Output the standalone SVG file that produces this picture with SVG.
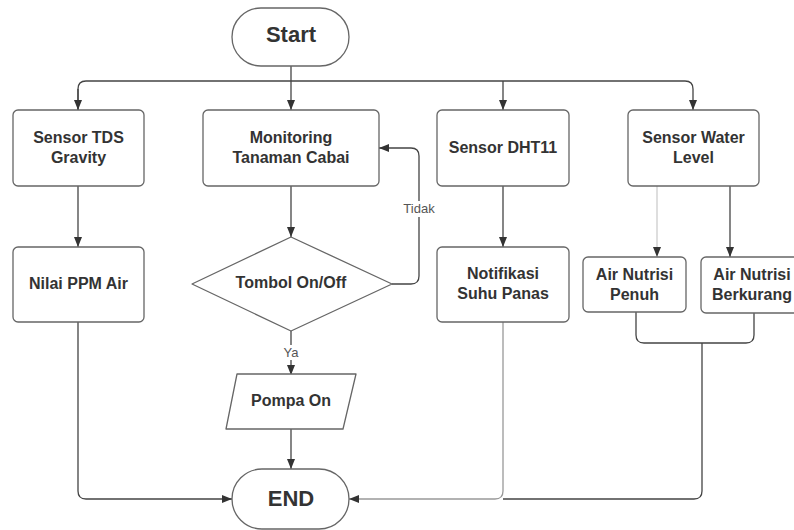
<svg xmlns="http://www.w3.org/2000/svg" width="794" height="530" viewBox="0 0 794 530">
<style>
.box{fill:#fff;stroke:#666;stroke-width:1.3}
.t{font-family:"Liberation Sans",Arial,sans-serif;font-weight:bold;font-size:16px;fill:#333;text-anchor:middle}
.big{font-size:22px}
.lbl{font-family:"Liberation Sans",Arial,sans-serif;font-size:13px;fill:#555;text-anchor:middle}
.c{fill:none;stroke:#444;stroke-width:1.3}
.faint{stroke:#ccc}
.grey{stroke:#999}
</style>
<defs>
<marker id="ah" markerUnits="userSpaceOnUse" markerWidth="10" markerHeight="10" viewBox="0 0 10 10" refX="10" refY="5" orient="auto">
<path d="M0,1 L10,5 L0,9 Z" fill="#333"/>
</marker>
</defs>
<rect width="794" height="530" fill="#fff"/>
<g id="connectors">
<path class="c" d="M291 66 V110" marker-end="url(#ah)"/>
<path class="c" d="M78 110 V89 Q78 81 86 81 H685 Q693 81 693 89 V110" marker-start="url(#ah)" marker-end="url(#ah)" style="marker-start:none"/>
<path class="c" d="M78 89 V110" marker-end="url(#ah)"/>
<path class="c" d="M503 81 V110" marker-end="url(#ah)"/>
<path class="c" d="M78 186 V247" marker-end="url(#ah)"/>
<path class="c" d="M291 186 V237" marker-end="url(#ah)"/>
<path class="c" d="M392 284 H411 Q419 284 419 276 V156 Q419 148 411 148 H379" marker-end="url(#ah)"/>
<path class="c" d="M291 331 V375" marker-end="url(#ah)"/>
<path class="c" d="M291 429 V469" marker-end="url(#ah)"/>
<path class="c" d="M503 186 V247" marker-end="url(#ah)"/>
<path class="c faint" d="M657 186 V257" marker-end="url(#ah)"/>
<path class="c" d="M730 186 V257" marker-end="url(#ah)"/>
<path class="c" d="M636 312 V335 Q636 343 644 343 H746 Q754 343 754 335 V313"/>
<path class="c" d="M78 322 V491 Q78 499 86 499 H232" marker-end="url(#ah)"/>
<path class="c grey" d="M503 322 V491 Q503 499 495 499 H349" marker-end="url(#ah)"/>
<path class="c" d="M702 343 V491 Q702 499 694 499 H503"/>
<rect x="401" y="201" width="36" height="16" fill="#fff"/>
<text class="lbl" x="419" y="213">Tidak</text>
<rect x="281" y="345" width="20" height="15" fill="#fff"/>
<text class="lbl" x="291" y="357">Ya</text>
</g>
<g id="start">
<rect class="box" x="232" y="8" width="117" height="58" rx="29"/>
<text class="t big" x="291" y="42">Start</text>
</g>
<g id="sensor-tds">
<rect class="box" x="13" y="110" width="131" height="76" rx="5"/>
<text class="t" x="78.5" y="143">Sensor TDS</text>
<text class="t" x="78.5" y="163">Gravity</text>
</g>
<g id="monitoring">
<rect class="box" x="203" y="110" width="176" height="76" rx="5"/>
<text class="t" x="291" y="143">Monitoring</text>
<text class="t" x="291" y="163">Tanaman Cabai</text>
</g>
<g id="sensor-dht11">
<rect class="box" x="437" y="110" width="132" height="76" rx="5"/>
<text class="t" x="503" y="153">Sensor DHT11</text>
</g>
<g id="sensor-water">
<rect class="box" x="628" y="110" width="131" height="76" rx="5"/>
<text class="t" x="693.5" y="143">Sensor Water</text>
<text class="t" x="693.5" y="163">Level</text>
</g>
<g id="nilai-ppm">
<rect class="box" x="13" y="247" width="131" height="75" rx="5"/>
<text class="t" x="78.5" y="289">Nilai PPM Air</text>
</g>
<g id="tombol">
<polygon class="box" points="291,237 392,284 291,331 192,284" stroke-linejoin="round"/>
<text class="t" x="291" y="288">Tombol On/Off</text>
</g>
<g id="pompa">
<polygon class="box" points="237,374 356,374 343,429 226,429" stroke-linejoin="round"/>
<text class="t" x="291" y="406">Pompa On</text>
</g>
<g id="notifikasi">
<rect class="box" x="437" y="247" width="132" height="75" rx="5"/>
<text class="t" x="503" y="279">Notifikasi</text>
<text class="t" x="503" y="299">Suhu Panas</text>
</g>
<g id="air-penuh">
<rect class="box" x="583" y="257" width="103" height="55" rx="5"/>
<text class="t" x="634.5" y="280">Air Nutrisi</text>
<text class="t" x="634.5" y="300">Penuh</text>
</g>
<g id="air-berkurang">
<rect class="box" x="701" y="257" width="102" height="56" rx="5"/>
<text class="t" x="752" y="280">Air Nutrisi</text>
<text class="t" x="752" y="300">Berkurang</text>
</g>
<g id="end">
<rect class="box" x="232" y="469" width="117" height="60" rx="30"/>
<text class="t big" x="291" y="506">END</text>
</g>
</svg>
